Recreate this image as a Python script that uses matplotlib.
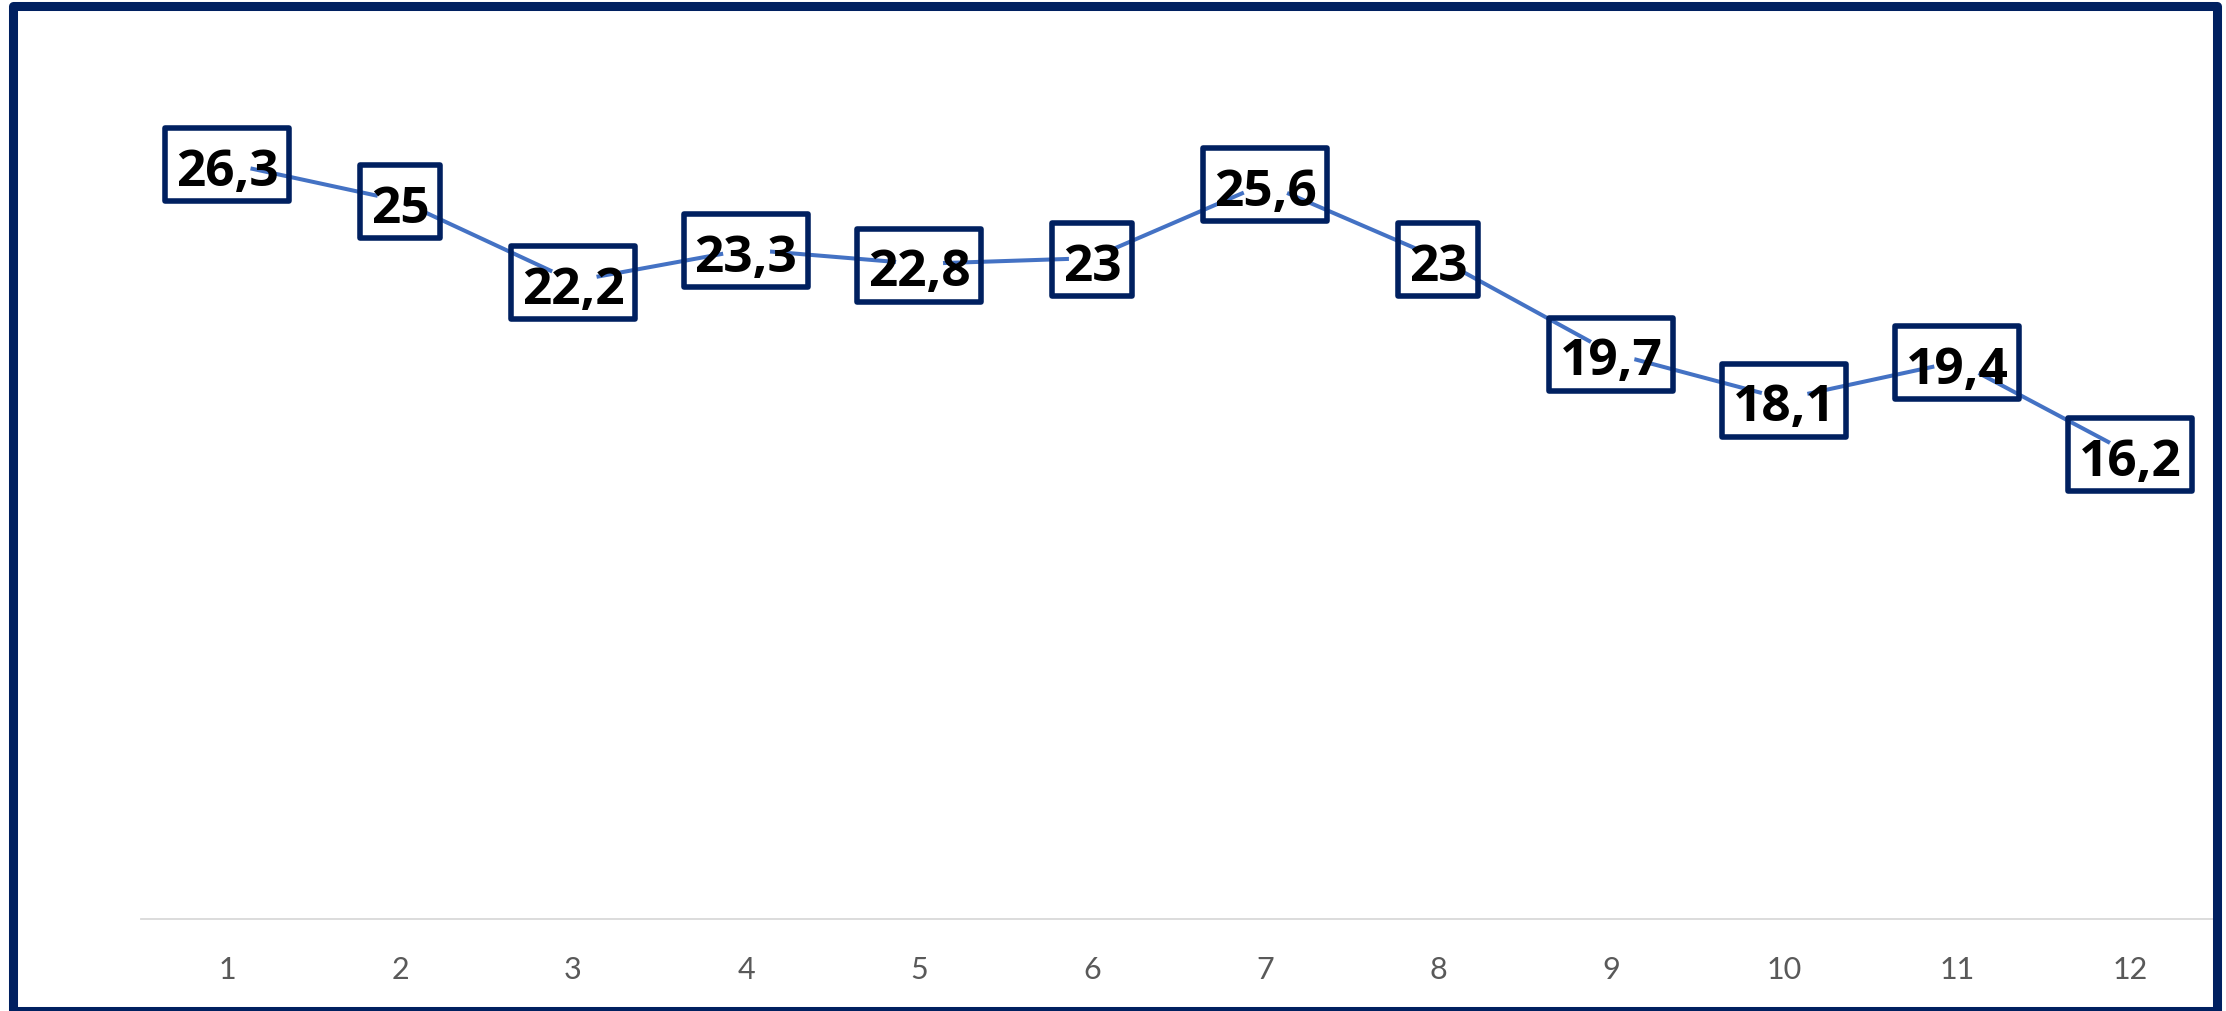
import matplotlib
matplotlib.use('Agg')
import matplotlib.pyplot as plt
from matplotlib.patches import Rectangle
from matplotlib.transforms import IdentityTransform
import numpy as np

# ---- data ----
categories = ['1', '2', '3', '4', '5', '6', '7', '8', '9', '10', '11', '12']
values = [26.3, 25, 22.2, 23.3, 22.8, 23, 25.6, 23, 19.7, 18.1, 19.4, 16.2]
value_labels = ['26,3', '25', '22,2', '23,3', '22,8', '23', '25,6', '23',
                '19,7', '18,1', '19,4', '16,2']

W, H = 2226, 1012
DPI = 100
NAVY = '#002060'
LINE = '#4472C4'

fig = plt.figure(figsize=(W / DPI, H / DPI), dpi=DPI)
fig.patch.set_facecolor('white')

ax = fig.add_axes([140.5 / W, (H - 920) / H, (2216.5 - 140.5) / W, (920 - 58) / H])
ax.patch.set_alpha(0)
x = np.arange(1, len(values) + 1)

ax.plot(x, values, color=LINE, lw=2.9, solid_capstyle='butt', zorder=2)
ax.plot(x, values, ls='none', marker='o', ms=34, mfc='white', mec='none', zorder=3)

ax.set_xlim(0.5, len(values) + 0.5)
ax.set_ylim(0, 30)
for s in ['left', 'right', 'top']:
    ax.spines[s].set_visible(False)
ax.spines['bottom'].set_color('#D9D9D9')
ax.spines['bottom'].set_linewidth(1.3)
ax.set_yticks([])
ax.set_xticks(x)
ax.set_xticklabels(categories, fontfamily='Lato', fontsize=22, color='#595959')
ax.tick_params(axis='x', length=0, pad=26)

texts = []
for xi, yi, lab in zip(x, values, value_labels):
    t = ax.annotate(lab, (xi, yi), xytext=(0, -15.5), textcoords='offset points',
                    ha='center', va='baseline', fontfamily='Open Sans',
                    fontweight='bold', fontsize=37, color='black', zorder=6,
                    annotation_clip=False)
    texts.append(t)

fig.canvas.draw()
renderer = fig.canvas.get_renderer()
for t, xi, yi in zip(texts, x, values):
    bb = t.get_window_extent(renderer)
    px, py = ax.transData.transform((xi, yi))
    bw = bb.width + 21
    bh = 73
    cy = py - 1.2
    rect = Rectangle((px - bw / 2, cy - bh / 2), bw, bh, transform=IdentityTransform(),
                     fill=False, ec=NAVY, lw=4.0, joinstyle='round', zorder=5)
    fig.add_artist(rect)

# outer frame
frame = Rectangle((12.5, 0), 2216.5 - 12.5, H - 6.5, transform=IdentityTransform(),
                  fill=False, ec=NAVY, lw=6.5, joinstyle='round', zorder=10)
fig.add_artist(frame)

fig.savefig('out.png', dpi=DPI, facecolor='white')
